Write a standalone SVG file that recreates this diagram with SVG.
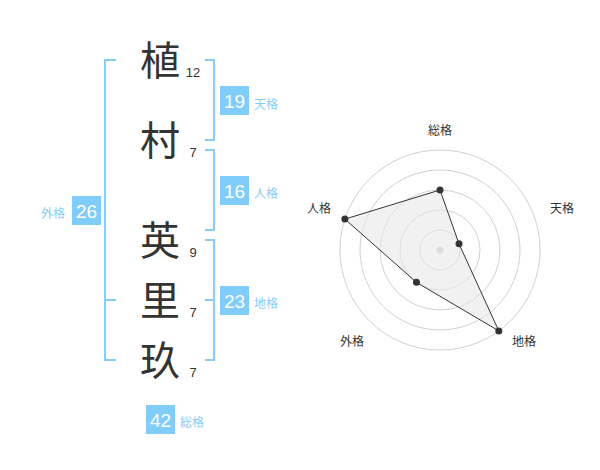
<svg xmlns="http://www.w3.org/2000/svg" width="600" height="470" viewBox="0 0 600 470">
<style>
.kanji{font-family:"Noto Sans CJK JP","Noto Sans CJK SC",sans-serif;font-size:40px;fill:#333;text-anchor:middle}
.num{font-family:"Liberation Sans",Arial,sans-serif;font-size:13px;fill:#333;text-anchor:middle}
.br{fill:none;stroke:#86cdf7;stroke-width:2}
.box{fill:#80ccfa}
.bnum{font-family:"Liberation Sans",Arial,sans-serif;font-size:19px;fill:#fff;text-anchor:middle}
.blab{font-family:"Noto Sans CJK JP","Noto Sans CJK SC",sans-serif;font-size:12px;fill:#86cdf7}
.rlab{font-family:"Noto Sans CJK JP","Noto Sans CJK SC",sans-serif;font-size:12px;fill:#333;text-anchor:middle}
.ring{fill:none;stroke:#d0d0d0;stroke-width:1}
.dot{fill:#333}
</style>
<rect width="600" height="470" fill="#fff"/>
<g id="chars">
<text class="kanji" x="160" y="75">植</text>
<text class="kanji" x="160" y="155">村</text>
<text class="kanji" x="160" y="255">英</text>
<text class="kanji" x="160" y="315">里</text>
<text class="kanji" x="160" y="375">玖</text>
<text class="num" x="193" y="77">12</text>
<text class="num" x="193" y="157">7</text>
<text class="num" x="193" y="257">9</text>
<text class="num" x="193" y="317">7</text>
<text class="num" x="193" y="377">7</text>
</g>
<g id="connectors">
<path class="br" d="M205,60 H214 V140 H205"/>
<path class="br" d="M205,150 H214 V230 H205"/>
<path class="br" d="M205,240 H214 V360 H205 M205,300 H214"/>
<path class="br" d="M116,60 H105 V360 H116 M105,300 H116"/>
</g>
<g id="tenkaku">
<rect class="box" x="220" y="86" width="29" height="29"/>
<text class="bnum" x="234.5" y="107.5">19</text>
<text class="blab" x="254" y="109">天格</text>
</g>
<g id="jinkaku">
<rect class="box" x="220" y="176" width="29" height="29"/>
<text class="bnum" x="234.5" y="197.5">16</text>
<text class="blab" x="254" y="198">人格</text>
</g>
<g id="chikaku">
<rect class="box" x="220" y="286" width="29" height="29"/>
<text class="bnum" x="234.5" y="307.5">23</text>
<text class="blab" x="254" y="308">地格</text>
</g>
<g id="gaikaku">
<rect class="box" x="72" y="196" width="29" height="29"/>
<text class="bnum" x="86.5" y="217.5">26</text>
<text class="blab" x="41" y="218">外格</text>
</g>
<g id="soukaku">
<rect class="box" x="146" y="405" width="29" height="29"/>
<text class="bnum" x="160.5" y="426.5">42</text>
<text class="blab" x="180" y="427">総格</text>
</g>
<g id="radar">
<circle class="ring" cx="440" cy="250" r="20"/>
<circle class="ring" cx="440" cy="250" r="40"/>
<circle class="ring" cx="440" cy="250" r="60"/>
<circle class="ring" cx="440" cy="250" r="80"/>
<circle class="ring" cx="440" cy="250" r="100"/>
<circle cx="440" cy="250" r="3.5" fill="#cccccc"/>
<polygon points="440,190 459.02,243.82 498.78,330.90 416.49,282.36 344.89,219.10" fill="#e8e8e8" fill-opacity="0.6" stroke="#333" stroke-width="1"/>
<circle class="dot" cx="440" cy="190" r="3.5"/>
<circle class="dot" cx="459.02" cy="243.82" r="3.5"/>
<circle class="dot" cx="498.78" cy="330.90" r="3.5"/>
<circle class="dot" cx="416.49" cy="282.36" r="3.5"/>
<circle class="dot" cx="344.89" cy="219.10" r="3.5"/>
<text class="rlab" x="440" y="134.5">総格</text>
<text class="rlab" x="562" y="212.5">天格</text>
<text class="rlab" x="524" y="346">地格</text>
<text class="rlab" x="352" y="346">外格</text>
<text class="rlab" x="319" y="212.5">人格</text>
</g>
</svg>
